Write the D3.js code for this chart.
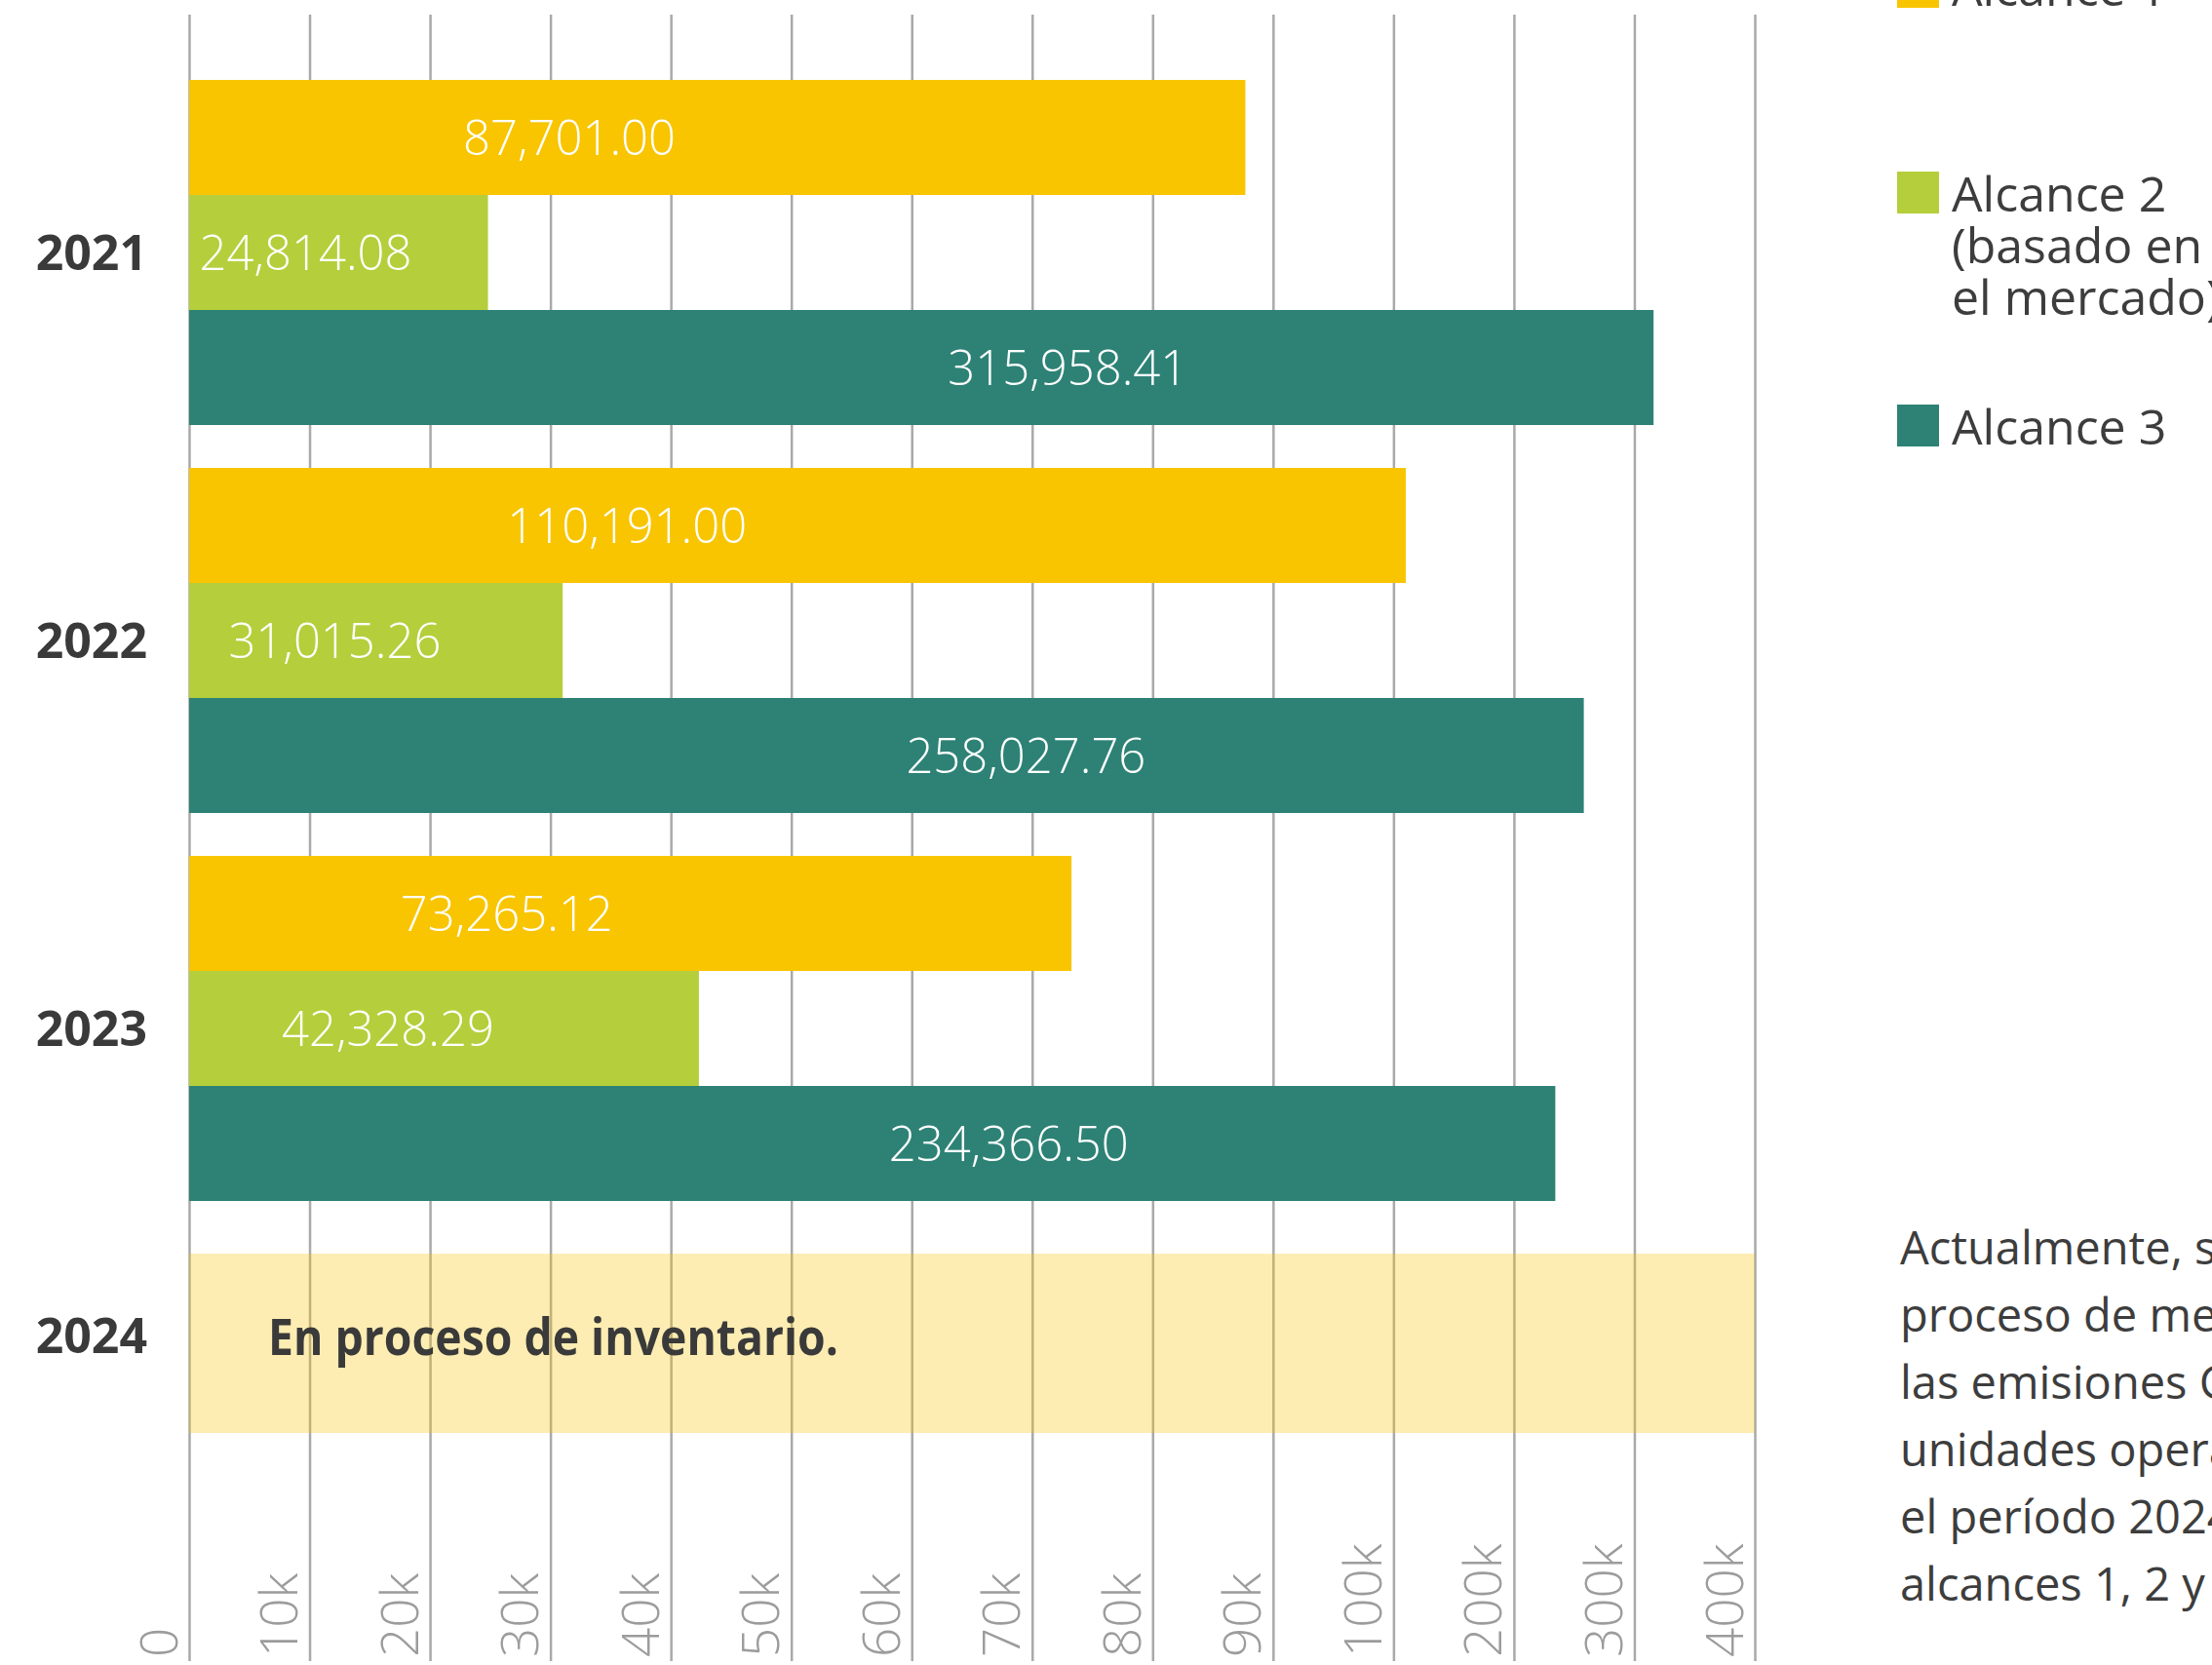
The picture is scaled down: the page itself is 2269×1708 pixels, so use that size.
<!DOCTYPE html>
<html>
<head>
<meta charset="utf-8">
<script src="https://cdn.jsdelivr.net/npm/d3@7"></script>
<style>
  html, body { margin: 0; padding: 0; background: #fff; overflow: hidden; }
  svg { display: block; }
  text { font-family: "Open Sans", "Noto Sans", sans-serif; }
</style>
</head>
<body>
<svg id="chart" width="2269" height="1708"></svg>
<script>
// Emisiones GEI por alcance (tCO2e)
const years = ["2021", "2022", "2023"];
const pendingYear = "2024";
const pendingNote = "En proceso de inventario.";
const seriesNames = ["Alcance 1", "Alcance 2 (basado en el mercado)", "Alcance 3"];
const alcance1 = [87701.00, 110191.00, 73265.12];
const alcance2 = [24814.08, 31015.26, 42328.29];
const alcance3 = [315958.41, 258027.76, 234366.50];
const tickValues = [0, 10000, 20000, 30000, 40000, 50000, 60000, 70000, 80000, 90000, 100000, 200000, 300000, 400000];
const tickLabels = ["0", "10k", "20k", "30k", "40k", "50k", "60k", "70k", "80k", "90k", "100k", "200k", "300k", "400k"];
const legendLines = [["Alcance 1"], ["Alcance 2", "(basado en", "el mercado)"], ["Alcance 3"]];
const noteLines = [
  "Actualmente, se encuentra en",
  "proceso de medición de",
  "las emisiones GEI de las",
  "unidades operativas para",
  "el período 2024 de los",
  "alcances 1, 2 y 3."
];

// Presentation
const colors = ["#F8C500", "#B5CE3B", "#2D8275"];
const labelAnchor = [0.36, 0.39, 0.6]; // where each series' value label sits along its bar
const W = 2269, H = 1708;
const plot = { left: 194, right: 1800, top: 15, bottom: 1704 };

const svg = d3.select("#chart");

// Broken (piecewise) value axis: each tick gets an equal step
const x = d3.scaleLinear()
  .domain(tickValues)
  .range(tickValues.map((d, i) => plot.left + i * (plot.right - plot.left) / (tickValues.length - 1)));

// Year groups
const groupTop = 82, groupStep = 398, groupBand = 354;
const y = d3.scaleBand()
  .domain(years)
  .range([groupTop, groupTop + groupStep * years.length - (groupStep - groupBand)])
  .paddingInner((groupStep - groupBand) / groupStep)
  .paddingOuter(0);

const ySeries = d3.scaleBand()
  .domain(d3.range(3))
  .range([0, y.bandwidth()])
  .padding(0);

// Gridlines + rotated tick labels
const axis = d3.axisBottom(x)
  .tickValues(tickValues)
  .tickSize(plot.bottom - plot.top)
  .tickFormat((d, i) => tickLabels[i]);

const gAxis = svg.append("g")
  .attr("transform", `translate(0,${plot.top})`)
  .call(axis);
gAxis.select(".domain").remove();
gAxis.selectAll(".tick line")
  .attr("stroke", "#a9a9a9")
  .attr("stroke-width", 2.5);
gAxis.selectAll(".tick text")
  .attr("fill", "#9c9c9c")
  .attr("font-size", 53)
  .attr("font-weight", 300)
  .attr("text-anchor", "start")
  .attr("dy", null)
  .attr("y", 0)
  .attr("transform", `translate(-13,${plot.bottom - plot.top - 4}) rotate(-90)`);

// Bars
const seriesValues = [alcance1, alcance2, alcance3];
const rows = [];
years.forEach((yr, i) => {
  seriesValues.forEach((vals, s) => rows.push({ year: yr, s, value: vals[i] }));
});

const gBars = svg.append("g");
gBars.selectAll("rect")
  .data(rows)
  .join("rect")
  .attr("x", x(0))
  .attr("y", d => y(d.year) + ySeries(d.s))
  .attr("width", d => x(d.value) - x(0))
  .attr("height", ySeries.bandwidth())
  .attr("fill", d => colors[d.s]);

const fmt = d3.format(",.2f");
gBars.selectAll("text")
  .data(rows)
  .join("text")
  .attr("x", d => x(0) + (x(d.value) - x(0)) * labelAnchor[d.s])
  .attr("y", d => y(d.year) + ySeries(d.s) + ySeries.bandwidth() / 2)
  .attr("dy", "0.36em")
  .attr("text-anchor", "middle")
  .attr("fill", "#fff")
  .attr("font-size", 49)
  .attr("font-weight", 300)
  .text(d => fmt(d.value));

// Year labels
svg.append("g").selectAll("text")
  .data(years)
  .join("text")
  .attr("x", 151)
  .attr("y", d => y(d) + y.bandwidth() / 2)
  .attr("dy", "0.36em")
  .attr("text-anchor", "end")
  .attr("fill", "#3a3a3a")
  .attr("font-size", 50)
  .attr("font-weight", 700)
  .text(d => d);

// Pending year row
const pendTop = y(years[years.length - 1]) + y.bandwidth() + 54;
const pendH = 184;
svg.append("rect")
  .attr("x", x(0))
  .attr("y", pendTop)
  .attr("width", x(400000) - x(0))
  .attr("height", pendH)
  .attr("fill", "#F8C500")
  .attr("fill-opacity", 0.3);
svg.append("text")
  .attr("x", 151)
  .attr("y", pendTop + pendH / 2 - 8)
  .attr("dy", "0.36em")
  .attr("text-anchor", "end")
  .attr("fill", "#3a3a3a")
  .attr("font-size", 50)
  .attr("font-weight", 700)
  .text(pendingYear);
svg.append("text")
  .attr("x", x(0) + 81)
  .attr("y", pendTop + pendH / 2 - 7)
  .attr("dy", "0.36em")
  .attr("fill", "#3a3a3a")
  .attr("font-size", 52)
  .attr("font-weight", 700)
  .attr("textLength", 585)
  .attr("lengthAdjust", "spacingAndGlyphs")
  .text(pendingNote);

// Legend
const legendTops = [-35, 176, 415];
const gLeg = svg.append("g").attr("transform", "translate(1946,0)");
legendLines.forEach((lines, i) => {
  const g = gLeg.append("g").attr("transform", `translate(0,${legendTops[i]})`);
  g.append("rect").attr("width", 43).attr("height", 43).attr("fill", colors[i]);
  const t = g.append("text")
    .attr("x", 56)
    .attr("y", 41)
    .attr("fill", "#3d3d3d")
    .attr("font-size", 50);
  lines.forEach((ln, j) => {
    t.append("tspan").attr("x", 56).attr("dy", j === 0 ? 0 : 53).text(ln);
  });
});

// Side note
const note = svg.append("text")
  .attr("x", 1949)
  .attr("y", 1297)
  .attr("fill", "#3d3d3d")
  .attr("font-size", 47);
noteLines.forEach((ln, j) => {
  note.append("tspan").attr("x", 1949).attr("dy", j === 0 ? 0 : 69).text(ln);
});
</script>
</body>
</html>
